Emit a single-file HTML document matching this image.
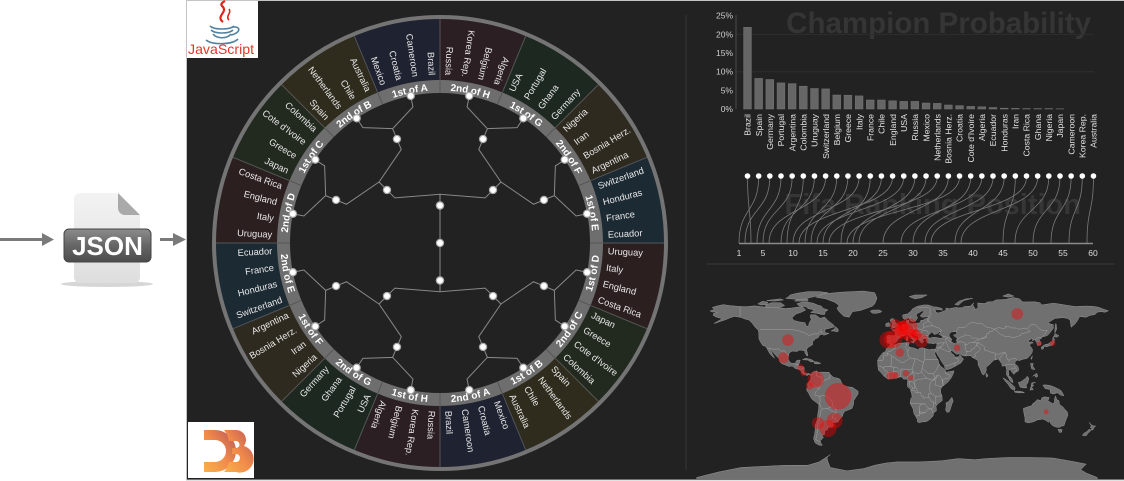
<!DOCTYPE html>
<html>
<head>
<meta charset="utf-8">
<style>
html,body{margin:0;padding:0;background:#fff;}
body{width:1124px;height:481px;overflow:hidden;}
svg{display:block;font-family:"Liberation Sans",Arial,sans-serif;}
.land polygon,.land polyline{vector-effect:non-scaling-stroke;}
</style>
</head>
<body>
<svg width="1124" height="481" viewBox="0 0 1124 481" xmlns="http://www.w3.org/2000/svg">
<defs>
  <linearGradient id="docG" x1="0" y1="0" x2="0" y2="1">
    <stop offset="0" stop-color="#f3f3f3"/><stop offset="1" stop-color="#dedede"/>
  </linearGradient>
  <linearGradient id="lblG" x1="0" y1="0" x2="0" y2="1">
    <stop offset="0" stop-color="#8c8c8c"/><stop offset="0.5" stop-color="#666"/><stop offset="1" stop-color="#4c4c4c"/>
  </linearGradient>
  <linearGradient id="d3G" x1="1" y1="0" x2="0" y2="1">
    <stop offset="0" stop-color="#b9545a"/><stop offset="0.5" stop-color="#f08a4b"/><stop offset="1" stop-color="#f9b24a"/>
  </linearGradient>
  <clipPath id="mapClip"><rect x="690" y="283" width="434" height="196"/></clipPath>
</defs>

<!-- left side: arrows + JSON icon -->
<rect x="0" y="238" width="44" height="3" fill="#7a7a7a"/>
<polygon points="42,233 54,239.5 42,246" fill="#7a7a7a"/>
<ellipse cx="107" cy="284" rx="46" ry="3" fill="#d6d6d6"/>
<path d="M80,193 H118 L140,215 V277 a6,6 0 0 1 -6,6 H80 a6,6 0 0 1 -6,-6 V199 a6,6 0 0 1 6,-6 z" fill="url(#docG)"/>
<path d="M118,193 L140,215 H125 a7,7 0 0 1 -7,-7 z" fill="#a9a9a9"/>
<rect x="64" y="229" width="87" height="33" rx="5" fill="url(#lblG)" stroke="#444"/>
<text x="107.5" y="255" text-anchor="middle" font-size="26" font-weight="bold" fill="#fff">JSON</text>
<rect x="160" y="238" width="14" height="3" fill="#7a7a7a"/>
<polygon points="173,233 186,239.5 173,246" fill="#7a7a7a"/>

<!-- panel -->
<rect x="186.5" y="0.5" width="940" height="479.5" fill="#222" stroke="#c4c4c4"/>

<!-- JavaScript logo -->
<rect x="187" y="1" width="71" height="57" fill="#fff"/>
<path d="M223,22 C215,16 229,12 222,6 C220,4 223,2 225,1" fill="none" stroke="#e2231a" stroke-width="2.2"/>
<path d="M229,20 C225,16 232,13 229,9" fill="none" stroke="#e2231a" stroke-width="1.6"/>
<g fill="none" stroke="#5382a1" stroke-width="1.6">
  <path d="M210,26 C214,30 230,30 234,26"/>
  <path d="M211,30 C215,34 229,34 233,30"/>
  <path d="M213,34 C217,39 227,39 231,34"/>
  <path d="M206,40 C212,45 232,45 238,39"/>
  <path d="M233,27 C241,26 241,33 231,35"/>
</g>
<text x="188" y="54" font-size="14" fill="#e0372b" textLength="66" lengthAdjust="spacingAndGlyphs">JavaScript</text>

<!-- D3 logo -->
<rect x="188" y="422" width="66" height="56" fill="#fff"/>
<path d="M204,430 h11 a21,21 0 0 1 0,42 h-11 v-10 h11 a11,11 0 0 0 0,-22 h-11 z" fill="url(#d3G)"/>
<path d="M224,430 h12 a10,10 0 0 1 8,16 a12,12 0 0 1 -8,26 h-12 a23,23 0 0 0 5,-10 h7 a4,4 0 0 0 0,-8 h-4 a23,23 0 0 0 0,-6 h4 a3.5,3.5 0 0 0 0,-7 h-7 a23,23 0 0 0 -5,-11 z" fill="url(#d3G)"/>

<!-- ===== Bracket ring ===== -->
<g transform="translate(440,243)">
  <defs>
    <path id="arcTop" d="M-156,0 A156,156 0 0 1 156,0"/>
    <path id="arcBot" d="M-156,0 A156,156 0 0 0 156,0"/>
  </defs>
  <g fill="none" stroke-width="61" stroke-dasharray="1.02 6.98">
    <circle r="193.5" pathLength="16" stroke="#2c1f20" stroke-dashoffset="0.01"/>
    <circle r="193.5" pathLength="16" stroke="#222a20" stroke-dashoffset="15.01"/>
    <circle r="193.5" pathLength="16" stroke="#2f2c1d" stroke-dashoffset="14.01"/>
    <circle r="193.5" pathLength="16" stroke="#1f2230" stroke-dashoffset="13.01"/>
    <circle r="193.5" pathLength="16" stroke="#2c1f24" stroke-dashoffset="12.01"/>
    <circle r="193.5" pathLength="16" stroke="#1d2920" stroke-dashoffset="11.01"/>
    <circle r="193.5" pathLength="16" stroke="#2f2a1f" stroke-dashoffset="10.01"/>
    <circle r="193.5" pathLength="16" stroke="#1c2a33" stroke-dashoffset="9.01"/>
  </g>
  <circle r="156.5" fill="none" stroke="#6e6e6e" stroke-width="13"/>
  <circle r="226" fill="none" stroke="#747474" stroke-width="4"/>
  <g id="sep" fill="none" stroke="#555" stroke-width="1">
    <path d="M0,-150V-224M57.40,-138.58L85.72,-206.95M106.07,-106.07L158.39,-158.39M138.58,-57.40L206.95,-85.72"/>
  </g>
  <use href="#sep" transform="rotate(90)"/>
  <use href="#sep" transform="rotate(180)"/>
  <use href="#sep" transform="rotate(270)"/>

  <!-- band labels -->
  <g font-size="10" font-weight="bold" fill="#fff" text-anchor="middle">
    <text dy="3.5"><textPath href="#arcTop" startOffset="30.63">2nd of D</textPath></text>
    <text dy="3.5"><textPath href="#arcTop" startOffset="91.89">1st of C</textPath></text>
    <text dy="3.5"><textPath href="#arcTop" startOffset="153.15">2nd of B</textPath></text>
    <text dy="3.5"><textPath href="#arcTop" startOffset="214.41">1st of A</textPath></text>
    <text dy="3.5"><textPath href="#arcTop" startOffset="275.67">2nd of H</textPath></text>
    <text dy="3.5"><textPath href="#arcTop" startOffset="336.93">1st of G</textPath></text>
    <text dy="3.5"><textPath href="#arcTop" startOffset="398.19">2nd of F</textPath></text>
    <text dy="3.5"><textPath href="#arcTop" startOffset="459.45">1st of E</textPath></text>
    <text dy="3.5"><textPath href="#arcBot" startOffset="30.63">2nd of E</textPath></text>
    <text dy="3.5"><textPath href="#arcBot" startOffset="91.89">1st of F</textPath></text>
    <text dy="3.5"><textPath href="#arcBot" startOffset="153.15">2nd of G</textPath></text>
    <text dy="3.5"><textPath href="#arcBot" startOffset="214.41">1st of H</textPath></text>
    <text dy="3.5"><textPath href="#arcBot" startOffset="275.67">2nd of A</textPath></text>
    <text dy="3.5"><textPath href="#arcBot" startOffset="336.93">1st of B</textPath></text>
    <text dy="3.5"><textPath href="#arcBot" startOffset="398.19">2nd of C</textPath></text>
    <text dy="3.5"><textPath href="#arcBot" startOffset="459.45">1st of D</textPath></text>
  </g>

  <!-- country labels -->
  <g font-size="9.3" fill="#e8e8e8">
    <text transform="rotate(-87.1875) translate(168,0) rotate(180)" dy="3" text-anchor="end">Russia</text>
    <text transform="rotate(-81.5625) translate(168,0) rotate(180)" dy="3" text-anchor="end">Korea Rep.</text>
    <text transform="rotate(-75.9375) translate(168,0) rotate(180)" dy="3" text-anchor="end">Belgium</text>
    <text transform="rotate(-70.3125) translate(168,0) rotate(180)" dy="3" text-anchor="end">Algeria</text>
    <text transform="rotate(-64.6875) translate(168,0)" dy="3">USA</text>
    <text transform="rotate(-59.0625) translate(168,0)" dy="3">Portugal</text>
    <text transform="rotate(-53.4375) translate(168,0)" dy="3">Ghana</text>
    <text transform="rotate(-47.8125) translate(168,0)" dy="3">Germany</text>
    <text transform="rotate(-42.1875) translate(168,0)" dy="3">Nigeria</text>
    <text transform="rotate(-36.5625) translate(168,0)" dy="3">Iran</text>
    <text transform="rotate(-30.9375) translate(168,0)" dy="3">Bosnia Herz.</text>
    <text transform="rotate(-25.3125) translate(168,0)" dy="3">Argentina</text>
    <text transform="rotate(-19.6875) translate(168,0)" dy="3">Switzerland</text>
    <text transform="rotate(-14.0625) translate(168,0)" dy="3">Honduras</text>
    <text transform="rotate(-8.4375) translate(168,0)" dy="3">France</text>
    <text transform="rotate(-2.8125) translate(168,0)" dy="3">Ecuador</text>
    <text transform="rotate(2.8125) translate(168,0)" dy="3">Uruguay</text>
    <text transform="rotate(8.4375) translate(168,0)" dy="3">Italy</text>
    <text transform="rotate(14.0625) translate(168,0)" dy="3">England</text>
    <text transform="rotate(19.6875) translate(168,0)" dy="3">Costa Rica</text>
    <text transform="rotate(25.3125) translate(168,0)" dy="3">Japan</text>
    <text transform="rotate(30.9375) translate(168,0)" dy="3">Greece</text>
    <text transform="rotate(36.5625) translate(168,0)" dy="3">Cote d'Ivoire</text>
    <text transform="rotate(42.1875) translate(168,0)" dy="3">Colombia</text>
    <text transform="rotate(47.8125) translate(168,0)" dy="3">Spain</text>
    <text transform="rotate(53.4375) translate(168,0)" dy="3">Netherlands</text>
    <text transform="rotate(59.0625) translate(168,0)" dy="3">Chile</text>
    <text transform="rotate(64.6875) translate(168,0)" dy="3">Australia</text>
    <text transform="rotate(70.3125) translate(168,0)" dy="3">Mexico</text>
    <text transform="rotate(75.9375) translate(168,0)" dy="3">Croatia</text>
    <text transform="rotate(81.5625) translate(168,0)" dy="3">Cameroon</text>
    <text transform="rotate(87.1875) translate(168,0)" dy="3">Brazil</text>
    <text transform="rotate(92.8125) translate(168,0)" dy="3">Russia</text>
    <text transform="rotate(98.4375) translate(168,0)" dy="3">Korea Rep.</text>
    <text transform="rotate(104.0625) translate(168,0)" dy="3">Belgium</text>
    <text transform="rotate(109.6875) translate(168,0)" dy="3">Algeria</text>
    <text transform="rotate(115.3125) translate(168,0) rotate(180)" dy="3" text-anchor="end">USA</text>
    <text transform="rotate(120.9375) translate(168,0) rotate(180)" dy="3" text-anchor="end">Portugal</text>
    <text transform="rotate(126.5625) translate(168,0) rotate(180)" dy="3" text-anchor="end">Ghana</text>
    <text transform="rotate(132.1875) translate(168,0) rotate(180)" dy="3" text-anchor="end">Germany</text>
    <text transform="rotate(137.8125) translate(168,0) rotate(180)" dy="3" text-anchor="end">Nigeria</text>
    <text transform="rotate(143.4375) translate(168,0) rotate(180)" dy="3" text-anchor="end">Iran</text>
    <text transform="rotate(149.0625) translate(168,0) rotate(180)" dy="3" text-anchor="end">Bosnia Herz.</text>
    <text transform="rotate(154.6875) translate(168,0) rotate(180)" dy="3" text-anchor="end">Argentina</text>
    <text transform="rotate(160.3125) translate(168,0) rotate(180)" dy="3" text-anchor="end">Switzerland</text>
    <text transform="rotate(165.9375) translate(168,0) rotate(180)" dy="3" text-anchor="end">Honduras</text>
    <text transform="rotate(171.5625) translate(168,0) rotate(180)" dy="3" text-anchor="end">France</text>
    <text transform="rotate(177.1875) translate(168,0) rotate(180)" dy="3" text-anchor="end">Ecuador</text>
    <text transform="rotate(182.8125) translate(168,0) rotate(180)" dy="3" text-anchor="end">Uruguay</text>
    <text transform="rotate(188.4375) translate(168,0) rotate(180)" dy="3" text-anchor="end">Italy</text>
    <text transform="rotate(194.0625) translate(168,0) rotate(180)" dy="3" text-anchor="end">England</text>
    <text transform="rotate(199.6875) translate(168,0) rotate(180)" dy="3" text-anchor="end">Costa Rica</text>
    <text transform="rotate(205.3125) translate(168,0) rotate(180)" dy="3" text-anchor="end">Japan</text>
    <text transform="rotate(210.9375) translate(168,0) rotate(180)" dy="3" text-anchor="end">Greece</text>
    <text transform="rotate(216.5625) translate(168,0) rotate(180)" dy="3" text-anchor="end">Cote d'Ivoire</text>
    <text transform="rotate(222.1875) translate(168,0) rotate(180)" dy="3" text-anchor="end">Colombia</text>
    <text transform="rotate(227.8125) translate(168,0) rotate(180)" dy="3" text-anchor="end">Spain</text>
    <text transform="rotate(233.4375) translate(168,0) rotate(180)" dy="3" text-anchor="end">Netherlands</text>
    <text transform="rotate(239.0625) translate(168,0) rotate(180)" dy="3" text-anchor="end">Chile</text>
    <text transform="rotate(244.6875) translate(168,0) rotate(180)" dy="3" text-anchor="end">Australia</text>
    <text transform="rotate(250.3125) translate(168,0) rotate(180)" dy="3" text-anchor="end">Mexico</text>
    <text transform="rotate(255.9375) translate(168,0) rotate(180)" dy="3" text-anchor="end">Croatia</text>
    <text transform="rotate(261.5625) translate(168,0) rotate(180)" dy="3" text-anchor="end">Cameroon</text>
    <text transform="rotate(267.1875) translate(168,0) rotate(180)" dy="3" text-anchor="end">Brazil</text>
  </g>

  <!-- tree links -->
  <g id="tq" fill="none" stroke="#8a8a8a" stroke-width="1">
    <path d="M0,-37.5L0,-48.75L45.08,-45.08L53.03,-53.03M53.03,-53.03L60.99,-60.99L38.75,-93.54L43.05,-103.94M60.99,-60.99L93.54,-38.75L103.94,-43.05M43.05,-103.94L47.36,-114.33L27.07,-136.08L29.26,-147.12M47.36,-114.33L77.09,-115.37L83.34,-124.72M103.94,-43.05L114.33,-47.36L115.37,-77.09L124.72,-83.34M114.33,-47.36L136.08,-27.07L147.12,-29.26"/>
  </g>
  <use href="#tq" transform="scale(-1,1)"/>
  <use href="#tq" transform="scale(1,-1)"/>
  <use href="#tq" transform="scale(-1,-1)"/>
  <path d="M0,-37.5V37.5" stroke="#8a8a8a" fill="none"/>
  <!-- nodes -->
  <g id="tn" fill="#fff" stroke="#a8a8a8" stroke-width="1.2">
    <circle cx="0" cy="-37.5" r="3.6"/>
    <circle cx="53.03" cy="-53.03" r="3.6"/>
    <circle cx="43.05" cy="-103.94" r="3.6"/>
    <circle cx="103.94" cy="-43.05" r="3.6"/>
    <circle cx="29.26" cy="-147.12" r="3.6"/>
    <circle cx="83.34" cy="-124.72" r="3.6"/>
    <circle cx="124.72" cy="-83.34" r="3.6"/>
    <circle cx="147.12" cy="-29.26" r="3.6"/>
  </g>
  <use href="#tn" transform="scale(-1,1)"/>
  <use href="#tn" transform="scale(1,-1)"/>
  <use href="#tn" transform="scale(-1,-1)"/>
  <circle cx="0" cy="0" r="3.6" fill="#fff" stroke="#a8a8a8" stroke-width="1.2"/>
</g>

<!-- dividers -->
<line x1="686" y1="15" x2="686" y2="470" stroke="#333" stroke-width="1.2"/>
<line x1="707" y1="264" x2="1115" y2="264" stroke="#333" stroke-width="1.5"/>

<!-- ===== Bar chart ===== -->
<text x="1091" y="33" text-anchor="end" font-size="29.5" font-weight="bold" fill="#353535">Champion Probability</text>
<g stroke="#2e2e2e" stroke-width="1">
  <line x1="736" y1="34.4" x2="1094" y2="34.4"/>
  <line x1="736" y1="71.7" x2="1094" y2="71.7"/>
</g>
<line x1="736" y1="15" x2="736" y2="109" stroke="#4a4a4a"/>
<g font-size="8.5" fill="#cfcfcf" text-anchor="end">
  <text x="733" y="18.7">25%</text>
  <text x="733" y="37.4">20%</text>
  <text x="733" y="56">15%</text>
  <text x="733" y="74.7">10%</text>
  <text x="733" y="93.3">5%</text>
  <text x="733" y="112">0%</text>
</g>
<g fill="#666" stroke="#767676" stroke-width="0.5">
  <rect x="743.6" y="27.3" width="7.8" height="81.7"/>
  <rect x="754.76" y="78.4" width="7.8" height="30.6"/>
  <rect x="765.92" y="79.5" width="7.8" height="29.5"/>
  <rect x="777.08" y="82.9" width="7.8" height="26.1"/>
  <rect x="788.24" y="83.6" width="7.8" height="25.4"/>
  <rect x="799.4" y="86.2" width="7.8" height="22.8"/>
  <rect x="810.56" y="88.5" width="7.8" height="20.5"/>
  <rect x="821.72" y="88.9" width="7.8" height="20.1"/>
  <rect x="832.88" y="95" width="7.8" height="14"/>
  <rect x="844.04" y="95.2" width="7.8" height="13.8"/>
  <rect x="855.2" y="95.9" width="7.8" height="13.1"/>
  <rect x="866.36" y="100" width="7.8" height="9"/>
  <rect x="877.52" y="100" width="7.8" height="9"/>
  <rect x="888.68" y="100.8" width="7.8" height="8.2"/>
  <rect x="899.84" y="101.4" width="7.8" height="7.6"/>
  <rect x="911" y="101.4" width="7.8" height="7.6"/>
  <rect x="922.16" y="103" width="7.8" height="6"/>
  <rect x="933.32" y="103.4" width="7.8" height="5.6"/>
  <rect x="944.48" y="105" width="7.8" height="4"/>
  <rect x="955.64" y="105.6" width="7.8" height="3.4"/>
  <rect x="966.8" y="106.4" width="7.8" height="2.6"/>
  <rect x="977.96" y="106.8" width="7.8" height="2.2"/>
  <rect x="989.12" y="107.5" width="7.8" height="1.5"/>
  <rect x="1000.28" y="108.2" width="7.8" height="0.8"/>
  <rect x="1011.44" y="108.4" width="7.8" height="0.6"/>
  <rect x="1022.6" y="108.6" width="7.8" height="0.4"/>
  <rect x="1033.76" y="108.6" width="7.8" height="0.4"/>
  <rect x="1044.92" y="108.6" width="7.8" height="0.4"/>
  <rect x="1056.08" y="108.8" width="7.8" height="0.2"/>
</g>
<g font-size="8.7" fill="#e2e2e2" text-anchor="end">
  <text transform="translate(750.7,114) rotate(-90)">Brazil</text>
  <text transform="translate(761.86,114) rotate(-90)">Spain</text>
  <text transform="translate(773.02,114) rotate(-90)">Germany</text>
  <text transform="translate(784.18,114) rotate(-90)">Portugal</text>
  <text transform="translate(795.34,114) rotate(-90)">Argentina</text>
  <text transform="translate(806.5,114) rotate(-90)">Colombia</text>
  <text transform="translate(817.66,114) rotate(-90)">Uruguay</text>
  <text transform="translate(828.82,114) rotate(-90)">Switzerland</text>
  <text transform="translate(839.98,114) rotate(-90)">Belgium</text>
  <text transform="translate(851.14,114) rotate(-90)">Greece</text>
  <text transform="translate(862.3,114) rotate(-90)">Italy</text>
  <text transform="translate(873.46,114) rotate(-90)">France</text>
  <text transform="translate(884.62,114) rotate(-90)">Chile</text>
  <text transform="translate(895.78,114) rotate(-90)">England</text>
  <text transform="translate(906.94,114) rotate(-90)">USA</text>
  <text transform="translate(918.1,114) rotate(-90)">Russia</text>
  <text transform="translate(929.26,114) rotate(-90)">Mexico</text>
  <text transform="translate(940.42,114) rotate(-90)">Netherlands</text>
  <text transform="translate(951.58,114) rotate(-90)">Bosnia Herz.</text>
  <text transform="translate(962.74,114) rotate(-90)">Croatia</text>
  <text transform="translate(973.9,114) rotate(-90)">Cote d'Ivoire</text>
  <text transform="translate(985.06,114) rotate(-90)">Algeria</text>
  <text transform="translate(996.22,114) rotate(-90)">Ecuador</text>
  <text transform="translate(1007.38,114) rotate(-90)">Honduras</text>
  <text transform="translate(1018.54,114) rotate(-90)">Iran</text>
  <text transform="translate(1029.7,114) rotate(-90)">Costa Rica</text>
  <text transform="translate(1040.86,114) rotate(-90)">Ghana</text>
  <text transform="translate(1052.02,114) rotate(-90)">Nigeria</text>
  <text transform="translate(1063.18,114) rotate(-90)">Japan</text>
  <text transform="translate(1074.34,114) rotate(-90)">Cameroon</text>
  <text transform="translate(1085.5,114) rotate(-90)">Korea Rep.</text>
  <text transform="translate(1096.66,114) rotate(-90)">Australia</text>
</g>

<!-- ===== Ranking ===== -->
<text x="1081" y="214" text-anchor="end" font-size="29" font-weight="bold" fill="#363636">Fifa Ranking Position</text>
<g fill="none" stroke="#7a7a7a" stroke-width="0.8">
  <path d="M747.5,177 C747.5,212 751,208 751,243"/>
  <path d="M758.66,177 C758.66,212 739,208 739,243"/>
  <path d="M769.82,177 C769.82,212 745,208 745,243"/>
  <path d="M780.98,177 C780.98,212 757,208 757,243"/>
  <path d="M792.14,177 C792.14,212 763,208 763,243"/>
  <path d="M803.3,177 C803.3,212 787,208 787,243"/>
  <path d="M814.46,177 C814.46,212 781,208 781,243"/>
  <path d="M825.62,177 C825.62,212 769,208 769,243"/>
  <path d="M836.78,177 C836.78,212 805,208 805,243"/>
  <path d="M847.94,177 C847.94,212 811,208 811,243"/>
  <path d="M859.1,177 C859.1,212 793,208 793,243"/>
  <path d="M870.26,177 C870.26,212 841,208 841,243"/>
  <path d="M881.42,177 C881.42,212 823,208 823,243"/>
  <path d="M892.58,177 C892.58,212 799,208 799,243"/>
  <path d="M903.74,177 C903.74,212 817,208 817,243"/>
  <path d="M914.9,177 C914.9,212 853,208 853,243"/>
  <path d="M926.06,177 C926.06,212 859,208 859,243"/>
  <path d="M937.22,177 C937.22,212 829,208 829,243"/>
  <path d="M948.38,177 C948.38,212 883,208 883,243"/>
  <path d="M959.54,177 C959.54,212 847,208 847,243"/>
  <path d="M970.7,177 C970.7,212 913,208 913,243"/>
  <path d="M981.86,177 C981.86,212 901,208 901,243"/>
  <path d="M993.02,177 C993.02,212 925,208 925,243"/>
  <path d="M1004.18,177 C1004.18,212 955,208 955,243"/>
  <path d="M1015.34,177 C1015.34,212 1003,208 1003,243"/>
  <path d="M1026.5,177 C1026.5,212 931,208 931,243"/>
  <path d="M1037.66,177 C1037.66,212 961,208 961,243"/>
  <path d="M1048.82,177 C1048.82,212 1015,208 1015,243"/>
  <path d="M1059.98,177 C1059.98,212 1033,208 1033,243"/>
  <path d="M1071.14,177 C1071.14,212 1051,208 1051,243"/>
  <path d="M1082.3,177 C1082.3,212 1069,208 1069,243"/>
  <path d="M1093.46,177 C1093.46,212 1087,208 1087,243"/>
</g>
<line x1="739" y1="243.5" x2="1093" y2="243.5" stroke="#8a8a8a" stroke-width="1.5"/>
<g fill="#fff">
  <circle cx="747.5" cy="176" r="2.8"/><circle cx="758.66" cy="176" r="2.8"/><circle cx="769.82" cy="176" r="2.8"/><circle cx="780.98" cy="176" r="2.8"/>
  <circle cx="792.14" cy="176" r="2.8"/><circle cx="803.3" cy="176" r="2.8"/><circle cx="814.46" cy="176" r="2.8"/><circle cx="825.62" cy="176" r="2.8"/>
  <circle cx="836.78" cy="176" r="2.8"/><circle cx="847.94" cy="176" r="2.8"/><circle cx="859.1" cy="176" r="2.8"/><circle cx="870.26" cy="176" r="2.8"/>
  <circle cx="881.42" cy="176" r="2.8"/><circle cx="892.58" cy="176" r="2.8"/><circle cx="903.74" cy="176" r="2.8"/><circle cx="914.9" cy="176" r="2.8"/>
  <circle cx="926.06" cy="176" r="2.8"/><circle cx="937.22" cy="176" r="2.8"/><circle cx="948.38" cy="176" r="2.8"/><circle cx="959.54" cy="176" r="2.8"/>
  <circle cx="970.7" cy="176" r="2.8"/><circle cx="981.86" cy="176" r="2.8"/><circle cx="993.02" cy="176" r="2.8"/><circle cx="1004.18" cy="176" r="2.8"/>
  <circle cx="1015.34" cy="176" r="2.8"/><circle cx="1026.5" cy="176" r="2.8"/><circle cx="1037.66" cy="176" r="2.8"/><circle cx="1048.82" cy="176" r="2.8"/>
  <circle cx="1059.98" cy="176" r="2.8"/><circle cx="1071.14" cy="176" r="2.8"/><circle cx="1082.3" cy="176" r="2.8"/><circle cx="1093.46" cy="176" r="2.8"/>
</g>
<g font-size="8.5" fill="#dedede" text-anchor="middle">
  <text x="739" y="256">1</text><text x="763" y="256">5</text><text x="793" y="256">10</text><text x="823" y="256">15</text>
  <text x="853" y="256">20</text><text x="883" y="256">25</text><text x="913" y="256">30</text><text x="943" y="256">35</text>
  <text x="973" y="256">40</text><text x="1003" y="256">45</text><text x="1033" y="256">50</text><text x="1063" y="256">55</text>
  <text x="1093" y="256">60</text>
</g>

<!-- ===== World map ===== -->
<g clip-path="url(#mapClip)">
<g class="land" transform="translate(897,384) scale(1.113,-1.113)" fill="#707070" stroke="#959595" stroke-width="0.5">
  <!-- North America -->
  <polygon points="-77.5,7.8 -79.5,8.6 -80.5,7.5 -82,8.2 -83.5,8.5 -85.7,10 -85.8,11.2 -87.5,13 -89.5,13.5 -91.5,14 -93.5,15.8 -95,16.2 -96.5,15.7 -98.5,16.3 -101,17.4 -103.5,18.3 -105.3,20 -105.7,22.5 -108.5,25.3 -111,27.9 -112.8,30 -114.7,31.7 -113,29 -111.5,26 -110,23.2 -112,24.8 -114.3,27.3 -115.8,30 -117.1,32.5 -118.5,34 -120.6,34.6 -122.5,37.5 -124,40.5 -124.2,46 -124.7,48.4 -127,50.5 -130,54.5 -133,57.5 -137,58.5 -140,59.8 -146,60.8 -150,59.5 -154,57.8 -158,56.5 -162,55 -164.5,54.4 -159,57.5 -157,58.8 -162,60 -165,61.5 -165,63.2 -161,64.5 -166,64.8 -168,65.6 -164,67 -166,68.8 -162,70 -156,71.3 -150,70.4 -141,69.6 -135,69.5 -128,70.2 -122,69.5 -115,68.8 -108,68.5 -100,67.8 -95,68.2 -90,69 -85,69.5 -82,66.5 -86,64.5 -90.5,63 -94,60 -94,58.7 -92.5,57 -88,55.8 -82.5,55 -82,52.5 -79.5,51.5 -79,54.5 -77,58 -78,60.5 -77.5,62.3 -73,62 -69,59 -65,60.2 -61.5,56.5 -57.5,53.5 -56,51.5 -60,50.2 -64.5,49.2 -66.5,50 -69,48.5 -65,49 -64.5,48 -65,47 -64,46 -61,45.5 -63.5,44.5 -66,43.8 -67,44.8 -70,43.7 -70.5,42 -72,41 -74,40.5 -74,39.5 -75.5,38.5 -76,37 -75.7,35.5 -77,34.5 -78.5,33.8 -80.5,32.3 -81.3,30.5 -80.5,28 -80,25.5 -81,25.2 -82,26.8 -82.8,28 -82.7,29.5 -84,30 -86,30.4 -89,30.3 -89.5,29.2 -91,29.3 -94,29.6 -96,28.5 -97.3,27 -97.5,25 -97.8,22.5 -97,20.5 -95,18.7 -92.5,18.5 -91,19 -90.5,20.8 -89,21.4 -87,21.5 -87.5,19.5 -88.3,17.5 -88.3,16 -86,15.9 -84,15.3 -83.4,14 -83.7,11 -82,9.2 -79.5,9.5 -77.5,8.6"/>
  <polygon points="-59.3,47.6 -56,49.6 -55.5,51.5 -53,49.5 -52.7,47.5 -54,46.8 -56.5,47.6"/>
  <polygon points="-65,62.5 -68,62.5 -72,63.5 -77.5,64.3 -74,66.5 -80,67.8 -82,69.5 -88,70.3 -90,72 -85,73.6 -80,73.5 -75,72.5 -71,70.8 -68,70 -66.5,68 -62,66.5 -64.5,65"/>
  <polygon points="-118,71 -113,73 -104.5,73 -101,70.5 -105,68.8 -113,68.5 -118,69.5"/>
  <polygon points="-125,72 -121,74.3 -116,73.5 -117,71.5 -122,71"/>
  <polygon points="-95,76.5 -90,76 -82,76.3 -79,77.5 -74,78.6 -68,80.5 -62,82 -70,83 -80,83 -90,81.5 -96,80 -98,78 -100,77"/>
  <polygon points="-92,74.5 -80,74.5 -80,76 -90,76"/>
  <polygon points="-117,75 -105,76.5 -102,75.5 -110,74.5"/>
  <polygon points="-85,21.8 -82,23.2 -77,22 -74.2,20.2 -77.5,19.8 -80,21.5"/>
  <polygon points="-74.4,19.8 -72,19.9 -68.4,18.6 -71,18 -74.4,18.4"/>
  <!-- Greenland / Iceland -->
  <polygon points="-73,78 -66,81 -50,82.5 -30,83.5 -20,82 -18,77 -20,72 -22,70 -26,68.5 -33,66 -40,65 -43,60 -48,61 -52,65 -54,68 -52,70.5 -56,73.5 -64,76.5"/>
  <polygon points="-24,65.5 -22,66.4 -16,66.5 -13.6,65.2 -15,64.3 -19,63.4 -22.5,63.8"/>
  <!-- South America -->
  <polygon points="-77.5,8.5 -75.5,10.8 -72,11.8 -71,10.5 -68,10.7 -64,10.6 -61,10.5 -60,8.5 -57,6 -52.5,5 -51,4 -50,1.5 -48.5,-1 -44.5,-2.5 -40,-3 -37,-5 -35,-6.5 -35,-9 -37,-12 -39,-15 -39,-18 -40.5,-22 -43,-23 -47,-24.5 -48.5,-27 -49,-29 -51,-31 -53,-34 -56.5,-34.8 -58.5,-34.5 -57,-36.5 -58,-38.5 -62,-39 -62.5,-41 -65,-42 -65,-45 -67.5,-46.5 -66,-48 -69,-51 -68.5,-53 -67,-55 -70,-55 -73.5,-53 -75,-49 -74,-45 -73.5,-41 -73.5,-37 -71.5,-32 -71.3,-28 -70.5,-23 -70.2,-18.5 -72,-17 -76,-14 -77.5,-12 -79.5,-8 -81,-6 -81,-4 -80,-2.5 -80.5,0 -79.5,1.5 -78.8,2.5 -77.5,4 -77.3,7"/>
  <!-- Eurasia -->
  <polygon points="-9,43 -8.9,38.5 -8.9,37 -6,36.2 -5,36.3 -2,36.8 0,38.5 0.3,40 3.2,42 3.1,43.2 6,43.1 8.5,44.3 10,44 12.3,41.7 15.6,38.2 16.6,38.9 17.1,39.4 16.6,40.1 18.5,40.1 18,40.6 16,41.5 14,42.5 12.3,44.3 12.3,45.5 13.7,45.6 15,44.5 17.5,43 19.5,41.8 19.3,40.3 21,38 22.5,36.5 23,38 24,38.2 23,39.5 24,40.8 26,40.8 28.5,41.3 28,42 28,43.5 29.5,45 30.8,46.5 33.5,46 32.5,45.3 33.5,44.5 35.5,45 36.5,45.3 38,47 39.5,47 37.5,44.7 40,43.5 41.6,41.6 39,41 36,41.7 33,42 29.2,41.2 26.7,40.2 26.2,39.4 26.8,38.3 27.3,37 28.5,36.7 30.6,36.7 32.5,36.1 34.5,36.8 36,36.3 35.8,35 35.5,33.5 34.9,32 34.2,31.2 34.9,29.5 36.5,26 38.5,23 39.2,21.5 40.8,19 42.7,16.4 43.2,13.3 45,12.8 48.5,14 52,15.8 55,17.5 57.5,18.9 59.8,22.5 58.5,23.7 56.4,26.4 56,24.9 54.5,24.3 51.6,24.2 51.3,26.1 50.2,26.6 48.5,28.5 48,30 49.5,30 50.8,28.8 53.5,26.8 56.5,27.1 59,25.4 62,25.2 66.5,25.4 67.5,23.8 70,22.7 72.7,21 73,17 74.5,14 76.3,9.5 77.5,8 79,9.3 80,11.5 80.2,15.5 82.2,16.6 85,19.5 87,21.5 89,21.8 91.5,22.5 92.5,20.5 94.3,18 94.5,16 97.5,16.5 98.5,13 98.3,8.5 100.5,5 101.5,2.8 103.5,1.3 104.3,1.4 103.4,4.5 102,6.3 100.5,7.4 100,13.5 101,12.7 102.5,12.3 103,11 105,8.6 106.7,10.5 109,11.7 109.3,13.5 108.5,16 106.7,17.5 105.7,18.9 106.6,20.3 108,21.5 110,21 111,21.5 113.5,22.3 117,23 119.5,25.5 121.5,28.5 121.8,31 120.5,33 119,34.8 120.5,36.5 122.5,37 120.8,37.8 118.8,37.5 118,39 121,40.8 122.2,40.5 121.4,39 124,39.8 125.3,37.6 126.4,34.5 129.4,35.3 129.5,37 128.4,38.6 127.5,39.8 129.7,41 130.6,42.5 133,42.8 135.5,43.9 138.2,47 140.4,50 140.5,53.3 137.5,54 135.5,55 138,56.5 142,59 145.5,59.3 149,59.6 153,59 155.5,57.5 156.5,51 160,54 162.5,57.5 163.5,60 165,60.5 170,60 173,61.5 178,62.5 179.9,64.5 183,65 187,64.5 190,65.8 186,67 181,69 176,69.8 170,70 160,69.6 152,70.8 143,72.3 140,72.5 130,71 128.5,73 124,73.8 113,73.7 110,76.5 104,77.7 98,76 89,75.5 86,74 80.5,73.6 80.5,72.5 78,72.3 72.5,72.8 72.8,68 69,66.8 70,68 68,71 69,73 66,70 60,69.5 58.8,68.5 55,68.4 53,68.8 47,67.6 44,68.3 44,66.2 39.5,64.5 37,63.8 35,64.5 34.5,66.2 32.5,66.8 35,67 41,66.4 40.2,67.9 36,69.1 33,69.3 28,71 24,71 18,69.8 14,67.5 12.5,65.5 9.5,63 5,62 5.5,59 7,58 8.5,58.3 10.5,59.5 11.2,58.4 12.5,56.5 14.5,56 16.5,56.5 18.5,59.5 17.5,61 17.5,63 21.5,65 22,65.7 25,65.2 22.7,63.5 21,61.5 21.5,60.5 23,60 26,60.4 30,59.8 28,59.3 24,58.2 24.3,57.2 21.5,57.3 21,56 19.8,54.5 18.5,54.7 14,54 12,54.2 10.9,54 10.5,57.5 8.3,56.9 8.6,55 8.7,53.8 7,53.5 5,53.2 4,51.7 2,51 1.5,50 -1.5,49.7 -1.9,48.7 -4.5,48.6 -2.5,47.3 -1.2,46 -1.5,43.5 -4,43.4 -8,43.7"/>
  <polygon points="12.4,38 15.6,38.3 15.1,36.7"/>
  <polygon points="8.4,39 9.7,39.2 9.6,41 9.4,43 8.6,42 8.2,40.9"/>
  <polygon points="-5.7,50 1.5,51.2 1.7,52.7 0,53.5 -0.5,54.5 -2,55.9 -1.8,57.6 -4,57.6 -3,58.6 -5,58.6 -6.2,57.5 -5.6,56 -4.8,54.8 -3,54 -4.5,53.3 -4.5,52.2 -5.2,51.7 -3,51.3"/>
  <polygon points="-6,52.2 -6,54 -7.5,55.2 -10,54.2 -10.2,52 -8,51.6"/>
  <polygon points="52,71.5 56,74.5 62,76.5 68,77 60,75 57,72.5 55,70.7"/>
  <polygon points="11,78.5 16,80 27,80 22,77.5 16,76.5"/>
  <polygon points="95,79 100,81 105,79 100,78"/>
  <polygon points="142,46 143.5,49.5 143,54 142.5,54.3 142,51 141.8,46.5"/>
  <polygon points="130,31.2 131.5,31.5 132,33.8 135,33.5 136.8,34.3 139.8,35 141,37 141.5,40.5 140,41.5 140,40 139.5,38 137,37 136,36 133,35.5 130.8,34 129.5,33"/>
  <polygon points="140,41.5 141.5,42.5 143.5,42 145.5,43.3 144,44.2 141.8,45.4 141.4,43.5"/>
  <polygon points="120.2,23 121.6,25.3 121,22"/>
  <polygon points="120,18.5 122.3,18.5 122,16 124,13 121,13.5 120.5,15.5"/>
  <polygon points="122,7 125.5,9.7 126.5,7 125,5.8 123.5,7.8"/>
  <polygon points="79.8,8 80.5,9.8 81.8,7.3 80.6,6"/>
  <polygon points="95.3,5.5 98,4 104,-1 106,-3 105.8,-5.8 102.3,-4 100,-0.5 97.5,2.3"/>
  <polygon points="105.3,-6.8 108,-6.3 112.5,-6.9 114.5,-7.8 110,-8 106,-7.5"/>
  <polygon points="109,1.5 110,-1.5 111,-3 114,-3.5 116.5,-3.5 116,-1 117.5,1 118.5,5 117,7 115.5,5 113,3.2 111,1.8"/>
  <polygon points="119.5,-5.5 120.5,-2 121,1 124.5,1.5 122,0.5 121.5,-1 123,-1 121,-3 122.5,-5"/>
  <polygon points="131,-1 134,-0.8 138,-1.5 141,-2.6 145,-4.5 147.5,-6 150,-10.5 147,-10 144,-7.8 141,-9 138,-8.3 137.5,-5 133,-4 132,-2.5"/>
  <!-- Africa -->
  <polygon points="-17,14.7 -17.5,21 -16,24 -13,27.7 -10,29.5 -9.8,31.5 -6.8,34 -5.9,35.8 -2,35.1 1,36.5 5,36.8 9.5,37.3 11,37 10.2,34.5 11.5,33 15.2,32.3 19.5,30.5 20,32 23,32.6 25,31.8 29,30.9 32.3,31.3 34.2,31.2 34.9,29.5 33.8,27.5 35.5,23.5 37.2,21 37.5,18.5 39.3,15.8 41.2,14.5 43.3,12.5 44,10.5 47,11.1 51.2,11.8 51,10.4 49,6 48,4.5 46,2 43,-0.5 40.5,-2.5 39.2,-4.6 39.3,-8 40.4,-10.5 40.6,-15 37,-17.5 35,-20 35.5,-24 32.9,-26 32.5,-28.6 30,-31.3 27.5,-33.2 25.5,-34 22.5,-34 20,-34.8 18.4,-34 18.2,-31.7 16.5,-28.6 15.2,-26.5 14.5,-22.5 11.8,-17.3 12.3,-13.5 13.6,-11.5 13.2,-9 12.2,-6 12.5,-5 9.5,-2.5 9.3,0.5 9.7,3.5 8.5,4.5 6,4.3 4.3,6.3 2.5,6.3 -1,5.1 -4,5.2 -7.5,4.4 -9,5 -11.5,6.8 -13.3,8.9 -15,10.9 -16.7,12.4"/>
  <polygon points="49.3,-12 50.5,-15.5 49.5,-17.5 48.2,-21.5 47,-25 45,-25.5 43.7,-23.5 44.2,-20 44,-17 46.5,-15.7 48,-13.5"/>
  <!-- Australia / NZ -->
  <polygon points="113.5,-22 114,-26 115,-30.5 115,-34 118,-35 123,-33.8 126,-32.3 131,-31.5 134,-32.8 136,-34.5 137.8,-33 138,-35.6 140,-37.5 143,-38.7 146,-39 148,-37.8 150,-37.5 151.5,-33 153.5,-28 153,-25 150.5,-22.5 149,-20.5 146,-18.5 145.5,-15 143.5,-14 142.5,-10.7 141.5,-13.5 141.5,-16.5 140,-17.7 137,-16 135.5,-15 136.8,-12.2 132.5,-11.5 130,-12.5 129.5,-15 126,-14 124,-16.3 122.2,-17.5 121,-19.5 117,-20.7"/>
  <polygon points="144.6,-40.7 148.3,-40.9 148,-43.2 146,-43.6"/>
  <polygon points="172.7,-34.5 174.5,-36.5 176,-37.6 178.5,-37.7 177,-39.2 176,-41.3 174.6,-41.3 175,-39.5 173.8,-39.2 174.5,-37.5"/>
  <polygon points="172.7,-40.5 174.3,-41.5 173,-43 171.2,-44.5 170.5,-46 168.5,-46.6 166.5,-46 168.3,-44 170.5,-42.8"/>
  <!-- Antarctica -->
  <polygon points="-180,-84 -160,-79 -150,-77 -140,-75 -120,-74 -100,-73 -80,-73 -70,-70 -60,-63.5 -63,-66 -62,-70 -60,-75 -45,-78 -30,-76 -20,-73 -10,-71 0,-70 20,-70 40,-69 55,-67 70,-68 80,-67 100,-66 120,-66 140,-66.5 160,-70 170,-72 165,-77 170,-80 180,-84 180,-95 -180,-95"/>
  <!-- approximate borders -->
  <g fill="none" stroke="#a8a8a8" stroke-width="0.45">
    <polyline points="-123,49 -95,49 -89,48 -83,46 -79,43.5 -75,45 -71,45 -69,47.3 -67.8,47 -67,45"/>
    <polyline points="-141,69.6 -141,60.3"/>
    <polyline points="-117.1,32.5 -111,31.3 -108,31.3 -106.5,31.8 -104,29.5 -101,29.8 -99,26.8 -97.2,25.9"/>
    <polyline points="-92,18 -91,17.3 -89.2,17.8 -89,14.5 -87,13 -85,14 -83.2,15"/>
    <polyline points="-72,11.5 -72.5,7.5 -67.5,6 -67,2 -70,-4 -73.5,-2.5 -75.5,-0.5 -78.8,1.3"/>
    <polyline points="-60,8.5 -60.5,5 -64,4 -67,2"/>
    <polyline points="-70,-4 -73,-7 -74,-10 -69.5,-11 -69,-15 -69.5,-17.5 -70.2,-18.5"/>
    <polyline points="-69.5,-11 -65,-10 -60,-13.5 -58,-16.5 -58,-20 -62.5,-22 -67,-22.5 -68.5,-21 -69.5,-17.5"/>
    <polyline points="-67,-22.5 -68.5,-24 -69.5,-30 -71,-36 -71.5,-41 -72,-46 -73,-50 -69,-52"/>
    <polyline points="-58,-20 -55,-22 -54.5,-26 -58,-28 -58,-30.5 -56,-30.5 -53.5,-33.7"/>
    <polyline points="-62.5,-22 -58,-24.5 -54.5,-26"/>
    <polyline points="-8.9,42 -7,42 -6.5,41 -7.5,37.5"/>
    <polyline points="-1.8,43.3 1,42.7 3.1,42.5"/>
    <polyline points="2.5,51 4.5,50 6,49.5 7.5,47.6 6.8,46.3 5.9,46.2 7,45 7.5,43.8"/>
    <polyline points="6,49.5 6,50.8 6,53.5"/>
    <polyline points="7.5,47.6 10.5,47.5 13,47.5 15,49 18,51 18.8,49.5 22.5,49 24,50.8 23.5,53.5 23.5,54"/>
    <polyline points="14.5,54 14.5,51.5 15,49"/>
    <polyline points="9.5,47.3 12,46.7 13.7,46.5 16.5,46.5 19,46 21,46 23,48 26.5,48.2 28,46 29.5,45"/>
    <polyline points="16.5,46.5 19,44.8 19.5,43 19.5,41.8"/>
    <polyline points="21,46 22.7,44.5 22.5,42.3 20.5,41 21,39.7"/>
    <polyline points="22.5,44 27,43.8 28,43.5"/>
    <polyline points="22.5,42.3 25,41.3 26.5,41.6 28,42"/>
    <polyline points="23.5,54 27,56 28,59.3"/>
    <polyline points="24,50.8 28,52 32,52.3 34,51.5 38,50 40,48 38,47"/>
    <polyline points="28,59.3 28,56 30,55.5 32,52.3"/>
    <polyline points="28,69 30,67.5 29.5,64 31,62.7 28,60.5"/>
    <polyline points="23.5,68.8 25,69 28,69"/>
    <polyline points="19,69 20.5,68.2 23.5,68.8"/>
    <polyline points="12.5,61 12,59 11.2,58.9"/>
    <polyline points="40,43.5 45,42 47.5,41.2 49,40"/>
    <polyline points="44,38.5 43.5,41 45,41.2 46.5,38.8 48,38.4"/>
    <polyline points="44,38 42.3,37.1 38,36.8 36,36.3"/>
    <polyline points="42.3,37.1 41,34.5 38.8,33.4 36.5,32.3 35.5,33"/>
    <polyline points="44,38 45,35.5 46,33 47.7,31 48,30"/>
    <polyline points="38.8,33.4 39,32 42,31 45,29.2 47,29.2 48,30"/>
    <polyline points="36.5,29.5 37,31.5 38.8,33.4"/>
    <polyline points="52,15.8 52,19 55,20 55.5,22.5 52,23.5 51.6,24.2"/>
    <polyline points="43.3,16.5 47,17 52,19"/>
    <polyline points="46.5,38.8 48,38.4 48.5,37.6 51,36.8"/>
    <polyline points="54,41 53.9,37.2 57,38 60,37.5 61.5,36.5 61,35 62,33 61,31.3 63,29.5 61.5,25.2"/>
    <polyline points="61,35 63.5,35.9 65.5,37.3 67.5,37.2 69,37.5 71.5,37 74,37 71,36 71.5,34 70,33.5 69,31.5 67,31.5 66.5,29.5 62,29.4"/>
    <polyline points="74,37 75,35.5 76.5,35 78,34 79,32.5 78.5,30.5 81,30 83,29 88,27.7 88.5,27 92,26.8 92.5,27.5 96,28.3 97.5,28"/>
    <polyline points="71,36 73.5,34 74.5,32 75,31 74,30 73,29 71,28 70,27 70.5,25 68.5,24"/>
    <polyline points="88.5,27 88,24 89,22"/>
    <polyline points="92.5,21 92.5,24 94,25 95,27 97.5,28 98.5,25 99,22 101,21.5 100,20"/>
    <polyline points="97.5,16.5 98.5,17.8 101,17.5 102.5,18 105,17 106.5,15 107.5,12.2 105,10.5"/>
    <polyline points="101,21.5 103,22.6 105,23 106.7,22.8 108,21.5"/>
    <polyline points="102,14.5 103,14.2 105.5,14.3 106,13.5"/>
    <polyline points="100.5,6.5 101,6 102,6.3"/>
    <polyline points="54,41 56,41.4 58,42.5 60,43 61,44.5 63,43.6 65.5,43.6 68,41 71,41.5 73,40.5 74,40 73.5,39.5 71.5,39.5 70.5,38.5 68,37.2"/>
    <polyline points="47,44.5 50,45.5 51,47.5 53,47 55,50.5 59,50.7 61,51 65,54.6 69,55.3 73,54 76,54.3 80.5,51 83,51 87,49.2 85.5,47 83,47.2 82.5,45.5 80.3,45 80,42.8 75,40.5 73.5,39.5"/>
    <polyline points="87,49.2 90,50.3 92,50.7 95,49.8 98,50.5 97.5,52 100,51.8 103,50.3 107,50.3 108.5,49.3 112,49.5 114.5,50.2 116.7,49.8 119.5,52.5 120.5,53.3 124,53.5 127.5,49.8 131,48 135,48.3 133,45 131,43 130.6,42.5"/>
    <polyline points="87,49.2 90,47.9 91,46 93,44.8 97,42.7 100,42.7 105,41.6 107,42.5 111,43.5 111.5,45 115,45.8 118,46.6 119.7,47 116.7,49.8"/>
    <polyline points="80,42.8 80.5,42 77.5,40.8 75,40.5"/>
    <polyline points="124,39.8 126,41.3 128.5,41.8 129.7,41"/>
    <polyline points="126.4,38 127.5,38.3 128.4,38.6"/>
    <polyline points="-8.7,27.7 -13,27.7"/>
    <polyline points="-8.7,27.7 -8.7,25.8 -12,25.9 -12,23.4 -13,21 -17,21"/>
    <polyline points="-8.7,27.7 -4.5,25 0,21.9 4.3,19.2 6,19.4 12,23.5 14,22.6 15.7,23 19.5,21.5 24,19.5 24,20 25,22 25,31.8"/>
    <polyline points="-1.5,35 -1.3,32 -3.5,31.5 -4.5,30 -8.7,28.5"/>
    <polyline points="8.5,36.9 8.3,34.5 7.5,33 9.5,30.3 10,30 11.5,33"/>
    <polyline points="9.5,30.3 10,25 11.5,24.2 12,23.5"/>
    <polyline points="25,22 37,22"/>
    <polyline points="-12,14.5 -11.5,12.5 -8.5,11 -8,10 -10.5,8.5 -11.5,6.8"/>
    <polyline points="-4.5,25 -5.5,15.5 -11.5,15.5 -12,14.5 -16.5,16.5"/>
    <polyline points="-5.5,15.5 -3,15.2 -0.5,15 1,14 3.5,11.7 4,13.5 7.8,13.3 12,13 13.6,13.7 15.7,19.9 15.7,23"/>
    <polyline points="3.5,11.7 3.5,10 2.7,6.3"/>
    <polyline points="-3,15.2 -3,11 -5.5,10.3 -8,10"/>
    <polyline points="-3,11 0,11 1,11 1.7,6.2"/>
    <polyline points="-3,11 -2.8,9.5 -3,5"/>
    <polyline points="-8,10 -7.5,8.5 -7.5,4.4"/>
    <polyline points="13.6,13.7 14.5,12 14,10 15.5,8 15,5 16,2.3 16,-1 17.5,-4.5 19,-8 21,-7 22,-11 24,-11 24,-13 27,-12 29,-12 30.5,-15.5 32.5,-15.5 33,-17 32.5,-21 31,-22.5 27.5,-22.5 25.5,-25.5 21,-26.8 20,-25 20,-22 21,-18 23.5,-18 25.3,-17.8"/>
    <polyline points="14,10 16.5,10 19,9 22,11 23.5,8.7 27,5 31,3.6 34,4.5 35.8,5.4 36,8 38,8 40.5,4 41.5,-1.5"/>
    <polyline points="22,11 22.5,14 24,19.5"/>
    <polyline points="22.5,14 25,12 28,9.5 33,9.5 34,10.5 35,12 36.5,14.5 37,17 38.5,18"/>
    <polyline points="33,9.5 34,4.5"/>
    <polyline points="36,8 33.5,3.5"/>
    <polyline points="41.5,-1.5 41,4 42.5,4.5 46,5 48,8 44,9 43,11"/>
    <polyline points="29.5,-1 30,1 31,2.5 34,4 35,1 34,-1 40.5,-2.5"/>
    <polyline points="29.5,-1 29.5,-4.5 29.5,-6 30.5,-8.5 33,-9.5 34.5,-11.5 35,-14.5 34.5,-16 35,-17.5 33,-17"/>
    <polyline points="30.5,-8.5 28.5,-8.5 28.5,-11.5 29,-12"/>
    <polyline points="34.5,-11.5 40,-10.5"/>
    <polyline points="12.5,-5 13.5,-4.5 16,-4 16,-1 14,2.3 11.3,2.2 9.8,2.3"/>
    <polyline points="11.3,2.2 11.3,-1 13.5,-2.5 14.5,-4.5"/>
    <polyline points="16,2.3 18.5,4 22.5,4.5 25,5 27,5"/>
    <polyline points="12.2,-6 16,-6 16.5,-7.5 19,-8"/>
    <polyline points="11.8,-17.3 14,-17.5 18.5,-17.5 21,-18 23.5,-18"/>
    <polyline points="20,-22 20,-28.5 17,-28.7"/>
    <polyline points="20,-25 24,-25.5 25.5,-25.5"/>
    <polyline points="23.5,-18 25.3,-17.8 27,-20.5 29,-22 31.3,-22.4 32,-26"/>
    <polyline points="9,6.5 10,7 12,8 13.5,10.5 14.5,12"/>
  </g>
</g>
<polygon transform="translate(897,384) scale(1.113,-1.113)" fill="#222" points="47,44.5 49,46.5 53,47 53,45 51.3,44.5 50.3,44.3 51,43 52.7,41.8 54,41 53,39.5 53.9,37.2 51,36.8 49,38 49.5,40.3 47.8,42 47.5,43"/>
<g fill="#ff0000" fill-opacity="0.4">
  <circle cx="838" cy="396.2" r="13.3"/>
  <circle cx="892.9" cy="339.3" r="9.1"/>
  <circle cx="908.6" cy="327.1" r="9"/>
  <circle cx="888.1" cy="339.9" r="8.6"/>
  <circle cx="828" cy="428.5" r="8.5"/>
  <circle cx="815.8" cy="379.5" r="8.2"/>
  <circle cx="834.7" cy="420.5" r="7.9"/>
  <circle cx="906.1" cy="331.9" r="7.9"/>
  <circle cx="902.1" cy="327.7" r="7"/>
  <circle cx="921.5" cy="340.6" r="6.9"/>
  <circle cx="910.9" cy="336.4" r="6.8"/>
  <circle cx="899.8" cy="332.2" r="6.1"/>
  <circle cx="818" cy="423" r="6.1"/>
  <circle cx="895.3" cy="325.2" r="5.9"/>
  <circle cx="787.9" cy="340" r="5.8"/>
  <circle cx="1017.2" cy="313.9" r="5.8"/>
  <circle cx="783.5" cy="357.8" r="5.4"/>
  <circle cx="902.9" cy="326" r="5.3"/>
  <circle cx="916.8" cy="334.8" r="4.9"/>
  <circle cx="914.8" cy="333.7" r="4.7"/>
  <circle cx="890.9" cy="375.5" r="4.4"/>
  <circle cx="899.9" cy="352.6" r="4.3"/>
  <circle cx="809.6" cy="385.7" r="4"/>
  <circle cx="800.6" cy="367.5" r="3.5"/>
  <circle cx="957.1" cy="347.8" r="3.4"/>
  <circle cx="803.5" cy="373" r="3.2"/>
  <circle cx="895.7" cy="375.2" r="3.2"/>
  <circle cx="905.9" cy="373.3" r="3.2"/>
  <circle cx="1052.8" cy="343" r="3"/>
  <circle cx="910.8" cy="377.7" r="2.7"/>
  <circle cx="1039.2" cy="343.5" r="2.5"/>
  <circle cx="1046.1" cy="411.8" r="2.5"/>
</g>
</g>
</svg>
</body>
</html>
